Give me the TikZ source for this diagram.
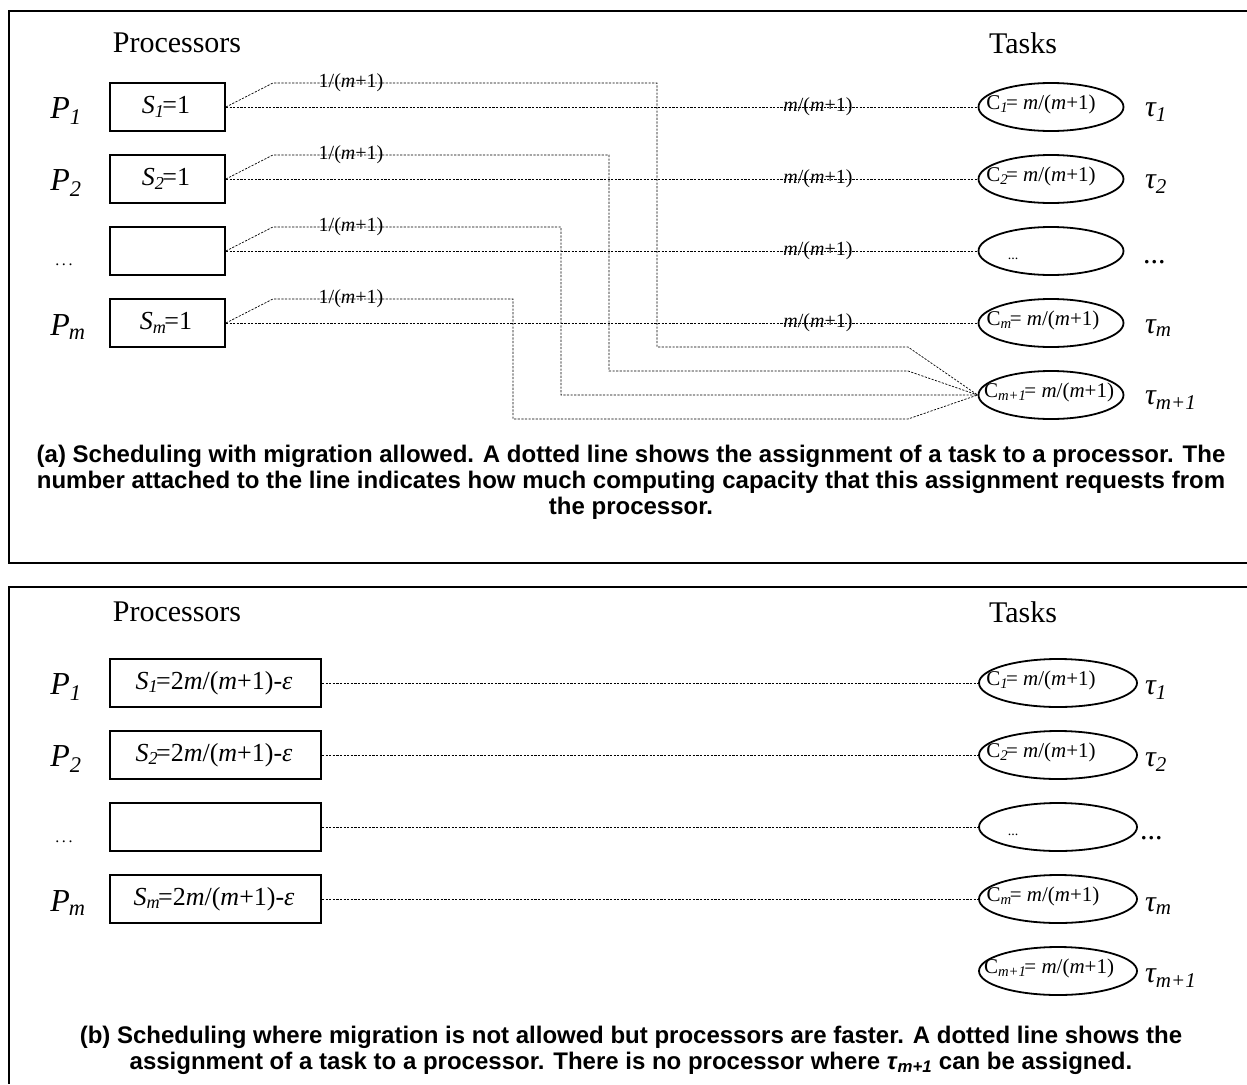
\documentclass[tikz,border=0pt]{standalone}
\usepackage{fontspec}
\setmainfont{Liberation Serif}
\newfontfamily\capfont{Liberation Sans}
\usetikzlibrary{shapes.geometric}
\newcommand{\fsz}[1]{\fontsize{#1}{#1}\selectfont}
\begin{document}
\begin{tikzpicture}[x=1pt,y=-1pt,
  frameline/.style={line width=1.8pt},
  pbox/.style={draw, line width=1.8pt, minimum height=48pt, inner sep=0pt},
  taskell/.style={draw, ellipse, line width=1.8pt, minimum height=48pt, inner sep=0pt},
  dl/.style={line width=0.7pt, dash pattern=on 2.2pt off 1.4pt},
  headtxt/.style={font=\fsz{30}, inner sep=0pt},
  plab/.style={font=\fsz{32}\itshape, inner sep=0pt},
  btxt/.style={font=\fsz{26}, inner sep=0pt},
  wlab/.style={font=\fsz{20}, inner sep=0pt},
  ttxt/.style={font=\fsz{21}, inner sep=0pt},
  taulab/.style={font=\fsz{30}\itshape, inner sep=0pt, anchor=west},
  dots/.style={font=\fsz{16}, inner sep=0pt},
  captxt/.style={font=\capfont\bfseries\fsz{24}, inner sep=0pt, anchor=base}
]
\useasboundingbox (0,0) rectangle (1247,1084);
% frames
\draw[frameline] (1247,11) -- (9,11) -- (9,563) -- (1247,563);
\draw[frameline] (1247,587) -- (9,587) -- (9,1084);

% ===== panel (a) =====
\node[headtxt] (hpa) at (177,43) {Processors};
\node[headtxt] (hta) at (1023,43) {Tasks};

\node[plab] (pa1) at (66,111) {P\textsubscript{1}};
\node[plab] (pa2) at (66,183) {P\textsubscript{2}};
\node[dots] (pa3) at (64,265) {.\,.\,.};
\node[plab] (pam) at (68,327) {P\textsubscript{\kern-1pt m}};

\node[pbox, minimum width=115pt] (a1) at (167.5,107) {};
\node[pbox, minimum width=115pt] (a2) at (167.5,179) {};
\node[pbox, minimum width=115pt] (a3) at (167.5,251) {};
\node[pbox, minimum width=115pt] (a4) at (167.5,323) {};
\node[btxt] (sa1) at (166,107) {\textit{S}\textsubscript{\textit{1}}\kern-2pt=1};
\node[btxt] (sa2) at (166,179) {\textit{S}\textsubscript{\textit{2}}\kern-2pt=1};
\node[btxt] (sam) at (166,323) {\textit{S}\textsubscript{\textit{m}}\kern-2pt=1};

\foreach \i/\y in {1/107,2/179,3/251,4/323,5/395}{
  \node[taskell, minimum width=145pt] (ta\i) at (1051,\y) {};
}
\node[ttxt] (ca1) at (1041,104) {C\textsubscript{\textit{1}}\kern-2pt= \textit{m}/(\textit{m}+1)};
\node[ttxt] (ca2) at (1041,176) {C\textsubscript{\textit{2}}\kern-2pt= \textit{m}/(\textit{m}+1)};
\node[font=\fsz{14}, inner sep=0pt] (ca3) at (1013,259) {...};
\node[ttxt] (cam) at (1043,320) {C\textsubscript{\textit{m}}\kern-2pt= \textit{m}/(\textit{m}+1)};
\node[ttxt] (ca5) at (1049,392) {C\textsubscript{\textit{m+1}}\kern-2pt= \textit{m}/(\textit{m}+1)};

\node[taulab] (ua1) at (1145,112) {τ\textsubscript{1}};
\node[taulab] (ua2) at (1145,184) {τ\textsubscript{2}};
\node[font=\fsz{30}, inner sep=0pt, anchor=west] (ua3) at (1143,262) {...};
\node[taulab] (uam) at (1145,328) {τ\textsubscript{m}};
\node[taulab] (ua5) at (1145,400) {τ\textsubscript{m+1}};

% direct assignments
\foreach \i in {1,2,3,4}{
  \draw[dl] (a\i.east) -- (ta\i.west);
}
% migrating task routes
\draw[dl] (a1.east) -- ++(47,-24) -| (657,347) -- (908,347) -- (ta5.west);
\draw[dl] (a2.east) -- ++(47,-24) -| (609,371) -- (908,371) -- (ta5.west);
\draw[dl] (a3.east) -- ++(47,-24) -| (561,395) -- (ta5.west);
\draw[dl] (a4.east) -- ++(47,-24) -| (513,419) -- (908,419) -- (ta5.west);

\foreach \i/\y in {1/83,2/155,3/227,4/299}{
  \node[wlab] (wa\i) at (351,\y) {1/(\textit{m}+1)};
}
\foreach \i/\y in {1/107,2/179,3/251,4/323}{
  \node[wlab] (va\i) at (818,\y) {\textit{m}/(\textit{m}+1)};
}

\node[captxt] (capa1) at (631,462) {(a) Scheduling with migration allowed. A dotted line shows the assignment of a task to a processor. The};
\node[captxt] (capa2) at (631,488) {number attached to the line indicates how much computing capacity that this assignment requests from};
\node[captxt] (capa3) at (631,514) {the processor.};

% ===== panel (b) =====
\node[headtxt] (hpb) at (177,612) {Processors};
\node[headtxt] (htb) at (1023,612) {Tasks};

\node[plab] (pb1) at (66,687) {P\textsubscript{1}};
\node[plab] (pb2) at (66,759) {P\textsubscript{2}};
\node[dots] (pb3) at (64,842) {.\,.\,.};
\node[plab] (pbm) at (68,903) {P\textsubscript{\kern-1pt m}};

\node[pbox, minimum width=211pt] (b1) at (215.5,683) {};
\node[pbox, minimum width=211pt] (b2) at (215.5,755) {};
\node[pbox, minimum width=211pt] (b3) at (215.5,827) {};
\node[pbox, minimum width=211pt] (b4) at (215.5,899) {};
\node[btxt] (sb1) at (214,683) {\textit{S}\textsubscript{\textit{1}}\kern-2pt=2\textit{m}/(\textit{m}+1)-\textit{ε}};
\node[btxt] (sb2) at (214,755) {\textit{S}\textsubscript{\textit{2}}\kern-2pt=2\textit{m}/(\textit{m}+1)-\textit{ε}};
\node[btxt] (sbm) at (214,899) {\textit{S}\textsubscript{\textit{m}}\kern-2pt=2\textit{m}/(\textit{m}+1)-\textit{ε}};

\foreach \i/\y in {1/683,2/755,3/827,4/899,5/971}{
  \node[taskell, minimum width=158pt] (tb\i) at (1058,\y) {};
}
\node[ttxt] (cb1) at (1041,680) {C\textsubscript{\textit{1}}\kern-2pt= \textit{m}/(\textit{m}+1)};
\node[ttxt] (cb2) at (1041,752) {C\textsubscript{\textit{2}}\kern-2pt= \textit{m}/(\textit{m}+1)};
\node[font=\fsz{14}, inner sep=0pt] (cb3) at (1013,835) {...};
\node[ttxt] (cbm) at (1043,896) {C\textsubscript{\textit{m}}\kern-2pt= \textit{m}/(\textit{m}+1)};
\node[ttxt] (cb5) at (1049,968) {C\textsubscript{\textit{m+1}}\kern-2pt= \textit{m}/(\textit{m}+1)};

\node[taulab] (ub1) at (1145,690) {τ\textsubscript{1}};
\node[taulab] (ub2) at (1145,762) {τ\textsubscript{2}};
\node[font=\fsz{30}, inner sep=0pt, anchor=west] (ub3) at (1140,838) {...};
\node[taulab] (ubm) at (1145,906) {τ\textsubscript{m}};
\node[taulab] (ub5) at (1145,978) {τ\textsubscript{m+1}};

\foreach \i in {1,2,3,4}{
  \draw[dl] (b\i.east) -- (tb\i.west);
}

\node[captxt] (capb1) at (631,1043) {(b) Scheduling where migration is not allowed but processors are faster. A dotted line shows the};
\node[captxt] (capb2) at (631,1069) {assignment of a task to a processor. There is no processor where \textit{τ}\textsubscript{\textit{m+1}} can be assigned.};
\end{tikzpicture}
\end{document}
